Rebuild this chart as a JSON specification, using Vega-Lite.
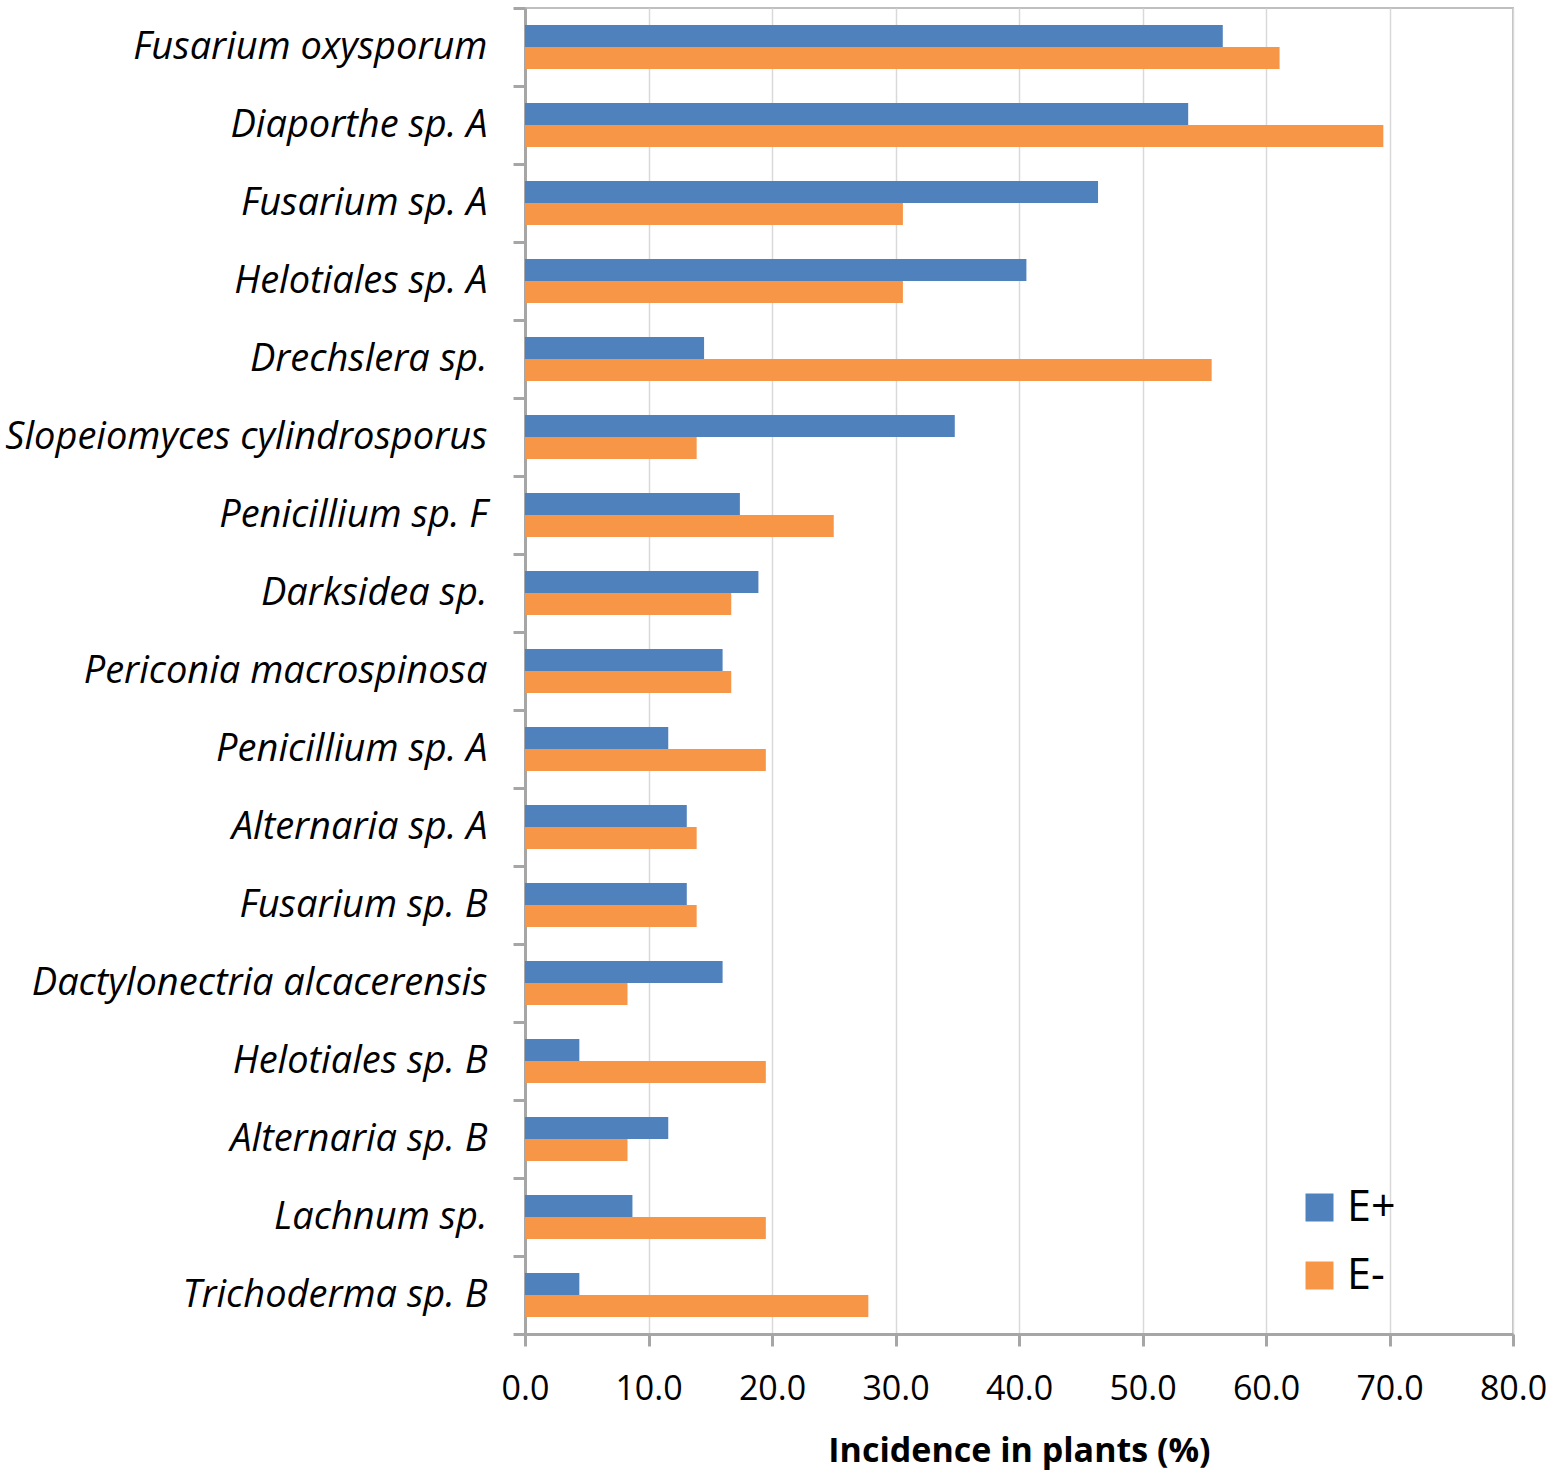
{
  "$schema": "https://vega.github.io/schema/vega-lite/v6.json",
  "width": 988,
  "height": 1326,
  "autosize": "none",
  "padding": {"left": 525, "top": 8, "right": 45, "bottom": 144},
  "background": "white",
  "config": {
    "font": "Open Sans",
    "view": {"stroke": "#bfbfbf", "strokeWidth": 2},
    "axis": {"domainColor": "#a6a6a6", "domainWidth": 3, "tickColor": "#a6a6a6", "tickWidth": 3, "tickSize": 12, "labelColor": "black", "titleColor": "black"}
  },
  "data": {
    "values": [
      {"species": "Fusarium oxysporum", "group": "E+", "value": 56.5},
      {"species": "Fusarium oxysporum", "group": "E-", "value": 61.1},
      {"species": "Diaporthe sp. A", "group": "E+", "value": 53.7},
      {"species": "Diaporthe sp. A", "group": "E-", "value": 69.5},
      {"species": "Fusarium sp. A", "group": "E+", "value": 46.4},
      {"species": "Fusarium sp. A", "group": "E-", "value": 30.6},
      {"species": "Helotiales sp. A", "group": "E+", "value": 40.6},
      {"species": "Helotiales sp. A", "group": "E-", "value": 30.6},
      {"species": "Drechslera sp.", "group": "E+", "value": 14.5},
      {"species": "Drechslera sp.", "group": "E-", "value": 55.6},
      {"species": "Slopeiomyces cylindrosporus", "group": "E+", "value": 34.8},
      {"species": "Slopeiomyces cylindrosporus", "group": "E-", "value": 13.9},
      {"species": "Penicillium sp. F", "group": "E+", "value": 17.4},
      {"species": "Penicillium sp. F", "group": "E-", "value": 25.0},
      {"species": "Darksidea sp.", "group": "E+", "value": 18.9},
      {"species": "Darksidea sp.", "group": "E-", "value": 16.7},
      {"species": "Periconia macrospinosa", "group": "E+", "value": 16.0},
      {"species": "Periconia macrospinosa", "group": "E-", "value": 16.7},
      {"species": "Penicillium sp. A", "group": "E+", "value": 11.6},
      {"species": "Penicillium sp. A", "group": "E-", "value": 19.5},
      {"species": "Alternaria sp. A", "group": "E+", "value": 13.1},
      {"species": "Alternaria sp. A", "group": "E-", "value": 13.9},
      {"species": "Fusarium sp. B", "group": "E+", "value": 13.1},
      {"species": "Fusarium sp. B", "group": "E-", "value": 13.9},
      {"species": "Dactylonectria alcacerensis", "group": "E+", "value": 16.0},
      {"species": "Dactylonectria alcacerensis", "group": "E-", "value": 8.3},
      {"species": "Helotiales sp.  B", "group": "E+", "value": 4.4},
      {"species": "Helotiales sp.  B", "group": "E-", "value": 19.5},
      {"species": "Alternaria sp. B", "group": "E+", "value": 11.6},
      {"species": "Alternaria sp. B", "group": "E-", "value": 8.3},
      {"species": "Lachnum sp.", "group": "E+", "value": 8.7},
      {"species": "Lachnum sp.", "group": "E-", "value": 19.5},
      {"species": "Trichoderma sp. B", "group": "E+", "value": 4.4},
      {"species": "Trichoderma sp. B", "group": "E-", "value": 27.8}
    ]
  },
  "mark": {"type": "bar"},
  "encoding": {
    "y": {
      "field": "species",
      "type": "nominal",
      "sort": null,
      "scale": {"paddingInner": 0, "paddingOuter": 0},
      "axis": {
        "title": null,
        "tickBand": "extent",
        "labelFontSize": 38,
        "labelFontStyle": "italic",
        "labelPadding": 26,
        "labelLimit": 600
      }
    },
    "yOffset": {
      "field": "group",
      "type": "nominal",
      "sort": ["E+", "E-"],
      "scale": {"paddingInner": 0, "paddingOuter": 0.773}
    },
    "x": {
      "field": "value",
      "type": "quantitative",
      "scale": {"domain": [0, 80], "nice": false},
      "axis": {
        "title": "Incidence in plants (%)",
        "values": [0, 10, 20, 30, 40, 50, 60, 70, 80],
        "format": ".1f",
        "labelFontSize": 34,
        "labelFlush": false,
        "labelPadding": 26,
        "titleFontSize": 34,
        "titleFontWeight": "bold",
        "titlePadding": 28,
        "gridColor": "#d9d9d9",
        "gridWidth": 1.5
      }
    },
    "color": {
      "field": "group",
      "type": "nominal",
      "sort": ["E+", "E-"],
      "scale": {"domain": ["E+", "E-"], "range": ["#4f81bd", "#f79646"]},
      "legend": {
        "title": null,
        "orient": "none",
        "legendX": 773,
        "legendY": 1178,
        "symbolType": "square",
        "symbolSize": 784,
        "symbolStrokeWidth": 0,
        "symbolOpacity": 1,
        "labelFontSize": 43,
        "labelOffset": 6,
        "rowPadding": 24
      }
    }
  }
}
